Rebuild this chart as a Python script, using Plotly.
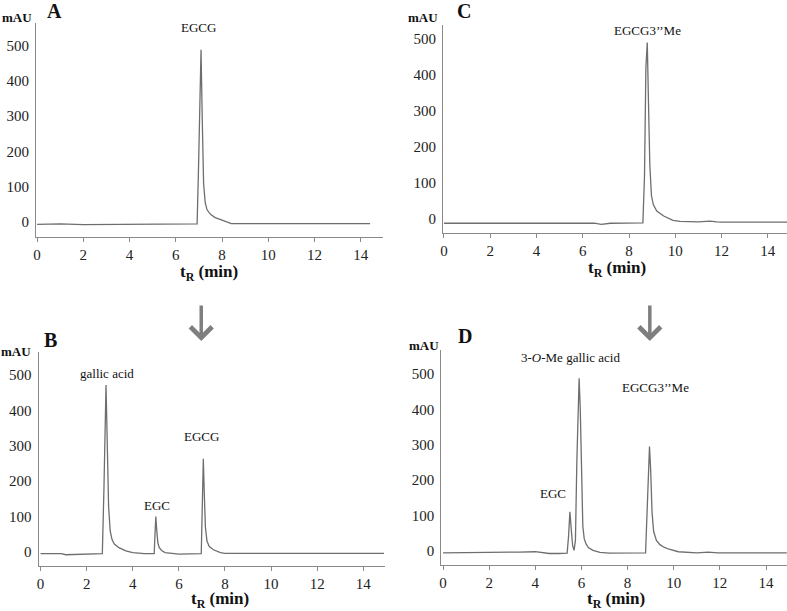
import plotly.graph_objects as go

# ---------------- data ----------------
# Panel A: EGCG standard
tA = [0, 1, 2, 4, 6, 6.92, 6.98, 7.04, 7.09, 7.14, 7.2, 7.27, 7.35, 7.5, 7.7, 8.0, 8.3, 8.4, 10, 14.4]
yA = [-6, -5, -7, -7, -6, -5, 150, 400, 488, 300, 110, 55, 35, 22, 13, 6, -2, -4, -4, -4]

# Panel C: EGCG3''Me standard
tC = [0, 4, 6.5, 6.8, 7.2, 8.6, 8.67, 8.73, 8.79, 8.84, 8.9, 8.97, 9.05, 9.2, 9.5, 9.9, 10.2, 11, 11.5, 11.8, 12, 14.9]
yC = [-12, -12, -12, -15, -12, -11, 120, 420, 490, 330, 150, 65, 40, 22, 8, -4, -7, -8, -6, -8, -9, -9]

# Panel B: EGCG after hydrolysis
tB = [0, 0.9, 1.1, 2.0, 2.68, 2.75, 2.8, 2.84, 2.89, 2.95, 3.02, 3.1, 3.2, 3.4, 3.7, 4.0, 4.5,
      4.93, 4.97, 5.0, 5.04, 5.09, 5.15, 5.25, 5.4, 5.7, 6.0,
      6.97, 7.01, 7.06, 7.1, 7.15, 7.22, 7.32, 7.5, 7.8, 8.0, 14.9]
yB = [-5, -5, -8, -6, -5, 180, 400, 472, 320, 130, 60, 35, 22, 12, 3, -2, -5,
      -5, 60, 100, 60, 25, 12, 4, -2, -5, -6,
      -5, 150, 263, 170, 70, 30, 15, 6, -2, -4, -4]

# Panel D: EGCG3''Me after hydrolysis
tD = [0, 3.0, 3.3, 4.0, 4.3, 4.6, 5.0, 5.38, 5.44, 5.5, 5.56, 5.62, 5.68, 5.74, 5.8, 5.86, 5.9, 5.95,
      6.0, 6.06, 6.12, 6.2, 6.3, 6.5, 6.8, 7.2,
      8.78, 8.84, 8.9, 8.95, 9.0, 9.06, 9.13, 9.25, 9.4, 9.6, 9.8, 10.2, 11, 11.5, 11.9, 12.5, 14.9]
yD = [-5, -5, -3, -2, -4, -7, -7, -6, 40, 111, 60, 15, 2, 30, 250, 450, 488, 400,
      200, 70, 35, 20, 10, 2, -4, -6,
      -5, 100, 250, 295, 230, 110, 55, 30, 18, 10, 5, -2, -5, -3, -5, -5, -5]

x_ticks = [0, 2, 4, 6, 8, 10, 12, 14]
y_ticks = [0, 100, 200, 300, 400, 500]
peak_labels_A = [("EGCG", 7.0, 550)]
peak_labels_C = [("EGCG3\u2019\u2019Me", 8.79, 525)]
peak_labels_B = [("gallic acid", 2.88, 503), ("EGC", 5.03, 130), ("EGCG", 6.98, 325)]
peak_labels_D = [("3-<i>O</i>-Me gallic acid", 5.54, 547), ("EGC", 4.75, 163), ("EGCG3\u2019\u2019Me", 9.2, 462)]

W, H = 787, 611
SERIF = "Liberation Serif"
LINE = "#6e6e6e"
AX = "#8a8a8a"

def px(x):
    return x / W

def py(y):
    return 1 - y / H

# panels: (traces, x-domain px, y-domain px, x-range, y-range)
panels = [
    (tA, yA, (33.3, 381), (237, 23.3), (-0.04, 14.94), (-42, 563)),
    (tC, yC, (441.7, 787), (233.3, 25), (-0.04, 14.83), (-40, 539)),
    (tB, yB, (35.7, 383), (565.7, 351.7), (-0.086, 14.92), (-39, 566)),
    (tD, yD, (440, 787), (565, 350), (-0.073, 14.91), (-39.5, 568)),
]

fig = go.Figure()
layout = {}
for i, (t, y, xd, yd, xr, yr) in enumerate(panels, start=1):
    xa = "x" if i == 1 else f"x{i}"
    ya = "y" if i == 1 else f"y{i}"
    fig.add_trace(go.Scatter(x=t, y=y, mode="lines", xaxis=xa, yaxis=ya,
                             line=dict(color=LINE, width=1.3), showlegend=False,
                             hoverinfo="skip"))
    kx = "xaxis" if i == 1 else f"xaxis{i}"
    ky = "yaxis" if i == 1 else f"yaxis{i}"
    layout[kx] = dict(domain=[px(xd[0]), min(px(xd[1]), 1.0)], range=list(xr), anchor=ya,
                      showgrid=False, zeroline=False, showline=True, linecolor=AX, linewidth=1.2,
                      tickmode="array", tickvals=x_ticks, ticks="outside", ticklen=4,
                      tickcolor=AX, tickwidth=1,
                      tickfont=dict(family=SERIF, size=15, color="#222"))
    layout[ky] = dict(domain=[py(yd[0]), py(yd[1])], range=list(yr), anchor=xa,
                      showgrid=False, zeroline=False, showline=True, linecolor=AX, linewidth=1.2,
                      tickmode="array", tickvals=y_ticks, ticks="", ticklabelstandoff=3,
                      tickfont=dict(family=SERIF, size=15, color="#222"))

annotations = []

def txt(text, x, y, size, bold=False, xref="paper", yref="paper", xanchor="center"):
    annotations.append(dict(text=f"<b>{text}</b>" if bold else text, x=x, y=y,
                            xref=xref, yref=yref, showarrow=False, xanchor=xanchor,
                            yanchor="middle",
                            font=dict(family=SERIF, size=size, color="#111")))

# panel letters
txt("A", px(52), py(11), 20, bold=True)
txt("C", px(463), py(11), 20, bold=True)
txt("B", px(48), py(340), 20, bold=True)
txt("D", px(464), py(336), 20, bold=True)
# mAU labels
txt("mAU", px(14), py(18), 13, bold=True)
txt("mAU", px(421.7), py(17.3), 13, bold=True)
txt("mAU", px(13), py(351.7), 13, bold=True)
txt("mAU", px(423), py(345), 13, bold=True)
# axis titles
xtitle = "t<sub>R</sub> (min)"
txt(xtitle, px(206.7), py(273), 17, bold=True)
txt(xtitle, px(616.7), py(269), 17, bold=True)
txt(xtitle, px(218.3), py(599.5), 17, bold=True)
txt(xtitle, px(615), py(599.5), 17, bold=True)

# peak labels
for labels, xr_, yr_ in [(peak_labels_A, "x", "y"), (peak_labels_C, "x2", "y2"),
                          (peak_labels_B, "x3", "y3"), (peak_labels_D, "x4", "y4")]:
    for text, xv, yv in labels:
        txt(text, xv, yv, 13, xref=xr_, yref=yr_)

# arrows (A -> B, C -> D)
for ax_x in (199, 649.3):
    annotations.append(dict(x=px(ax_x), y=py(341), xref="paper", yref="paper",
                            ax=0, ay=-37, axref="pixel", ayref="pixel",
                            showarrow=True, arrowhead=4, arrowsize=1.2, arrowwidth=3.5,
                            arrowcolor="#7f7f7f", text=""))

fig.update_layout(**layout)
fig.update_layout(width=W, height=H, margin=dict(l=0, r=0, t=0, b=0),
                  paper_bgcolor="white", plot_bgcolor="white",
                  font=dict(family=SERIF),
                  annotations=annotations, showlegend=False)

fig.write_html("out.html", config={"displayModeBar": False},
               post_script="document.body.style.margin='0';document.body.style.overflow='hidden';")
